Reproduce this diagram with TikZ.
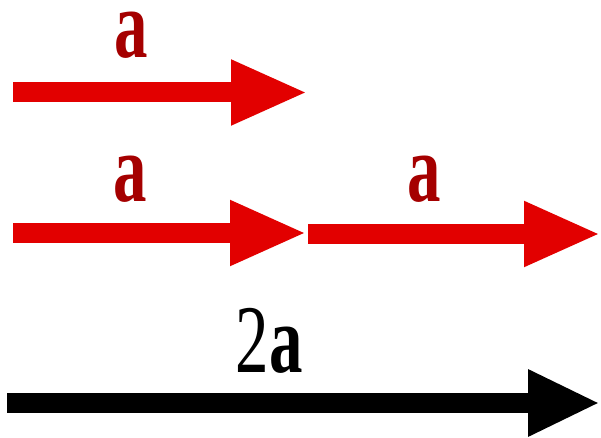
\documentclass[tikz,border=0pt]{standalone}
\usepackage{fontspec}
\setmainfont{Liberation Serif}
\usetikzlibrary{arrows.meta}
\definecolor{arrred}{RGB}{226,0,0}
\definecolor{labred}{RGB}{165,0,0}
\tikzset{
  vecred/.style={draw=arrred, line width=20pt, -{Triangle[length=77pt,width=60pt]}},
  vecblack/.style={draw=black, line width=20pt, -{Triangle[length=72pt,width=62pt]}},
  lab/.style={anchor=base, inner sep=0pt, text height=48pt, text depth=0pt, font=\fontsize{97}{97}\selectfont},
}
\begin{document}
\begin{tikzpicture}[x=1pt,y=-1pt]
\useasboundingbox (0,0) rectangle (601,438);
% row 1
\coordinate (a1s) at (13,92.5);
\coordinate (a1e) at (308,92.5);
\draw[vecred] (a1s) -- (a1e);
\node[lab, text=labred] (la1) at (131,58) {\scalebox{0.69}[1]{\bfseries a}};
% row 2
\coordinate (a2s) at (13,233);
\coordinate (a2e) at (307,233);
\coordinate (a3s) at (308,234);
\coordinate (a3e) at (601,234);
\draw[vecred] (a2s) -- (a2e);
\draw[vecred] (a3s) -- (a3e);
\node[lab, text=labred] (la2) at (130,201) {\scalebox{0.69}[1]{\bfseries a}};
\node[lab, text=labred] (la3) at (424,201) {\scalebox{0.69}[1]{\bfseries a}};
% row 3
\coordinate (bs) at (7,403);
\coordinate (be) at (600,403);
\draw[vecblack] (bs) -- (be);
\node[lab, text=black, text height=64pt] (lb) at (269,372) {\scalebox{0.69}[1]{2\bfseries a}};
\end{tikzpicture}
\end{document}
